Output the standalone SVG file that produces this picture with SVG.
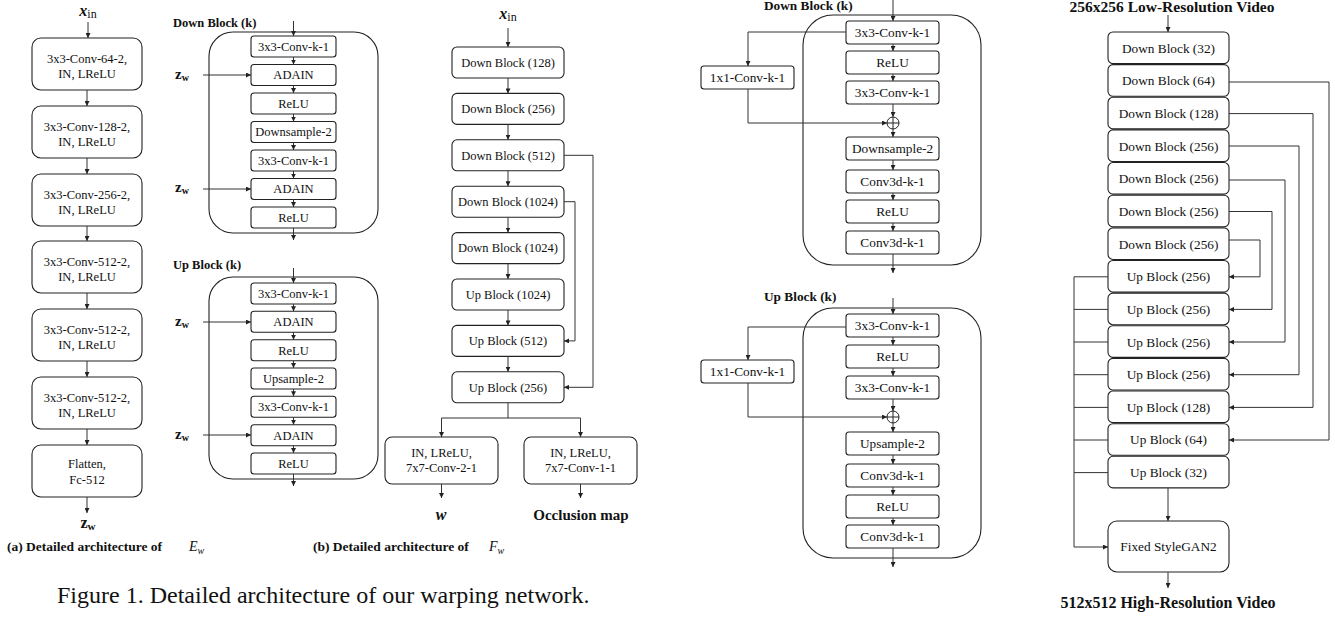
<svg xmlns="http://www.w3.org/2000/svg" width="1335" height="617" viewBox="0 0 1335 617">
<defs>
<marker id="ah" viewBox="0 0 6 6" refX="6" refY="3" markerWidth="5" markerHeight="5" orient="auto" markerUnits="userSpaceOnUse"><path d="M0,0 L6,3 L0,6 z" fill="#222"/></marker>
</defs>
<style>
.bx{fill:#fff;stroke:#222;stroke-width:1.1}
.ob{fill:none;stroke:#222;stroke-width:1.1}
.ln{fill:none;stroke:#333;stroke-width:1}
.ar{fill:none;stroke:#333;stroke-width:1;marker-end:url(#ah)}
.t{font-family:"Liberation Serif","Times New Roman",serif;font-size:12.5px;text-anchor:middle;fill:#111}
.t2{font-family:"Liberation Serif","Times New Roman",serif;font-size:13.3px;text-anchor:middle;fill:#111}
.b{font-family:"Liberation Serif","Times New Roman",serif;font-weight:bold;fill:#111}
.m{font-family:"Liberation Serif","Times New Roman",serif;fill:#111}
</style>
<rect width="1335" height="617" fill="#fff"/>

<!-- ===== Panel (a) E_w ===== -->
<g id="a-xin"><text class="m" x="88" y="16" text-anchor="middle"><tspan font-style="italic" font-weight="bold" font-size="16">x</tspan><tspan font-size="12" dy="2">in</tspan></text></g>
<g id="a-b1"><rect class="bx" x="32" y="38" width="110" height="52" rx="9"/><text class="t" x="87" y="63">3x3-Conv-64-2,</text><text class="t" x="87" y="78">IN, LReLU</text></g>
<g id="a-b2"><rect class="bx" x="32" y="106" width="110" height="52" rx="9"/><text class="t" x="87" y="131">3x3-Conv-128-2,</text><text class="t" x="87" y="146">IN, LReLU</text></g>
<g id="a-b3"><rect class="bx" x="32" y="174" width="110" height="52" rx="9"/><text class="t" x="87" y="199">3x3-Conv-256-2,</text><text class="t" x="87" y="214">IN, LReLU</text></g>
<g id="a-b4"><rect class="bx" x="32" y="241" width="110" height="52" rx="9"/><text class="t" x="87" y="266">3x3-Conv-512-2,</text><text class="t" x="87" y="281">IN, LReLU</text></g>
<g id="a-b5"><rect class="bx" x="32" y="309" width="110" height="52" rx="9"/><text class="t" x="87" y="334">3x3-Conv-512-2,</text><text class="t" x="87" y="349">IN, LReLU</text></g>
<g id="a-b6"><rect class="bx" x="32" y="377" width="110" height="52" rx="9"/><text class="t" x="87" y="402">3x3-Conv-512-2,</text><text class="t" x="87" y="417">IN, LReLU</text></g>
<g id="a-b7"><rect class="bx" x="32" y="445" width="110" height="52" rx="9"/><text class="t" x="87" y="468">Flatten,</text><text class="t" x="87" y="484">Fc-512</text></g>
<g id="a-zw"><text class="b" x="88" y="528" text-anchor="middle"><tspan font-size="16">z</tspan><tspan font-size="11" dy="2">w</tspan></text></g>
<g id="cap-a"><text class="b" x="7" y="551" font-size="13.5">(a) Detailed architecture of</text><text class="m" x="189" y="551" font-size="14" font-style="italic">E<tspan font-size="10" dy="3">w</tspan></text></g>

<!-- ===== Panel (b) blocks ===== -->
<g id="b-down-label"><text class="b" x="173" y="27" font-size="12.5">Down Block (k)</text></g>
<g id="b-down"><rect class="ob" x="209" y="32" width="169" height="201" rx="24"/></g>
<g id="b-d1"><rect class="bx" x="251" y="36" width="85" height="21" rx="3"/><text class="t" x="293.5" y="50.8">3x3-Conv-k-1</text></g>
<g id="b-d2"><rect class="bx" x="251" y="64.5" width="85" height="21" rx="3"/><text class="t" x="293.5" y="79.3">ADAIN</text></g>
<g id="b-d3"><rect class="bx" x="251" y="93" width="85" height="21" rx="3"/><text class="t" x="293.5" y="107.8">ReLU</text></g>
<g id="b-d4"><rect class="bx" x="251" y="121.5" width="85" height="21" rx="3"/><text class="t" x="293.5" y="136.3">Downsample-2</text></g>
<g id="b-d5"><rect class="bx" x="251" y="150" width="85" height="21" rx="3"/><text class="t" x="293.5" y="164.8">3x3-Conv-k-1</text></g>
<g id="b-d6"><rect class="bx" x="251" y="178.5" width="85" height="21" rx="3"/><text class="t" x="293.5" y="193.3">ADAIN</text></g>
<g id="b-d7"><rect class="bx" x="251" y="207" width="85" height="21" rx="3"/><text class="t" x="293.5" y="221.8">ReLU</text></g>
<g id="b-zw1"><text class="b" x="175" y="79"><tspan font-size="15">z</tspan><tspan font-size="10" dy="2">w</tspan></text></g>
<g id="b-zw2"><text class="b" x="175" y="192"><tspan font-size="15">z</tspan><tspan font-size="10" dy="2">w</tspan></text></g>

<g id="b-up-label"><text class="b" x="173" y="269" font-size="12.5">Up Block (k)</text></g>
<g id="b-up"><rect class="ob" x="209" y="277" width="169" height="202" rx="24"/></g>
<g id="b-u1"><rect class="bx" x="251" y="283" width="85" height="21" rx="3"/><text class="t" x="293.5" y="297.8">3x3-Conv-k-1</text></g>
<g id="b-u2"><rect class="bx" x="251" y="311.3" width="85" height="21" rx="3"/><text class="t" x="293.5" y="326.1">ADAIN</text></g>
<g id="b-u3"><rect class="bx" x="251" y="339.7" width="85" height="21" rx="3"/><text class="t" x="293.5" y="354.5">ReLU</text></g>
<g id="b-u4"><rect class="bx" x="251" y="368" width="85" height="21" rx="3"/><text class="t" x="293.5" y="382.8">Upsample-2</text></g>
<g id="b-u5"><rect class="bx" x="251" y="396.3" width="85" height="21" rx="3"/><text class="t" x="293.5" y="411.1">3x3-Conv-k-1</text></g>
<g id="b-u6"><rect class="bx" x="251" y="424.7" width="85" height="21" rx="3"/><text class="t" x="293.5" y="439.5">ADAIN</text></g>
<g id="b-u7"><rect class="bx" x="251" y="453" width="85" height="21" rx="3"/><text class="t" x="293.5" y="467.8">ReLU</text></g>
<g id="b-zw3"><text class="b" x="175" y="326"><tspan font-size="15">z</tspan><tspan font-size="10" dy="2">w</tspan></text></g>
<g id="b-zw4"><text class="b" x="175" y="439"><tspan font-size="15">z</tspan><tspan font-size="10" dy="2">w</tspan></text></g>

<!-- ===== F_w ===== -->
<g id="f-xin"><text class="m" x="508" y="19" text-anchor="middle"><tspan font-style="italic" font-weight="bold" font-size="16">x</tspan><tspan font-size="12" dy="2">in</tspan></text></g>
<g id="f-1"><rect class="bx" x="452" y="47" width="112" height="31" rx="5"/><text class="t" x="508" y="66.8">Down Block (128)</text></g>
<g id="f-2"><rect class="bx" x="452" y="93.4" width="112" height="31" rx="5"/><text class="t" x="508" y="113.2">Down Block (256)</text></g>
<g id="f-3"><rect class="bx" x="452" y="139.8" width="112" height="31" rx="5"/><text class="t" x="508" y="159.6">Down Block (512)</text></g>
<g id="f-4"><rect class="bx" x="452" y="186.2" width="112" height="31" rx="5"/><text class="t" x="508" y="206">Down Block (1024)</text></g>
<g id="f-5"><rect class="bx" x="452" y="232.6" width="112" height="31" rx="5"/><text class="t" x="508" y="252.4">Down Block (1024)</text></g>
<g id="f-6"><rect class="bx" x="452" y="279" width="112" height="31" rx="5"/><text class="t" x="508" y="298.8">Up Block (1024)</text></g>
<g id="f-7"><rect class="bx" x="452" y="325.4" width="112" height="31" rx="5"/><text class="t" x="508" y="345.2">Up Block (512)</text></g>
<g id="f-8"><rect class="bx" x="452" y="371.8" width="112" height="31" rx="5"/><text class="t" x="508" y="391.6">Up Block (256)</text></g>
<g id="f-9"><rect class="bx" x="385" y="437" width="113" height="47" rx="7"/><text class="t" x="441.5" y="457">IN, LReLU,</text><text class="t" x="441.5" y="472">7x7-Conv-2-1</text></g>
<g id="f-10"><rect class="bx" x="524" y="437" width="113" height="47" rx="7"/><text class="t" x="580.5" y="457">IN, LReLU,</text><text class="t" x="580.5" y="472">7x7-Conv-1-1</text></g>
<g id="f-w"><text class="b" x="441" y="520" font-size="16" font-style="italic" text-anchor="middle">w</text></g>
<g id="f-occ"><text class="b" x="581" y="520" font-size="15" text-anchor="middle">Occlusion map</text></g>
<g id="cap-b"><text class="b" x="313" y="551" font-size="13.5">(b) Detailed architecture of</text><text class="m" x="489" y="551" font-size="14" font-style="italic">F<tspan font-size="10" dy="3">w</tspan></text></g>

<g id="fig-cap"><text class="m" x="57" y="603" font-size="24">Figure 1. Detailed architecture of our warping network.</text></g>

<!-- ===== Right blocks ===== -->
<g id="r-down-label"><text class="b" x="764" y="10" font-size="13.3">Down Block (k)</text></g>
<g id="r-down"><rect class="ob" x="803" y="15" width="178" height="250" rx="30"/></g>
<g id="r-d1"><rect class="bx" x="846" y="21" width="93" height="23" rx="3"/><text class="t2" x="892.5" y="37">3x3-Conv-k-1</text></g>
<g id="r-d2"><rect class="bx" x="846" y="51" width="93" height="23" rx="3"/><text class="t2" x="892.5" y="67">ReLU</text></g>
<g id="r-d3"><rect class="bx" x="846" y="81" width="93" height="23" rx="3"/><text class="t2" x="892.5" y="97">3x3-Conv-k-1</text></g>
<g id="r-d4"><rect class="bx" x="846" y="137" width="93" height="23" rx="3"/><text class="t2" x="892.5" y="153">Downsample-2</text></g>
<g id="r-d5"><rect class="bx" x="846" y="170" width="93" height="23" rx="3"/><text class="t2" x="892.5" y="186">Conv3d-k-1</text></g>
<g id="r-d6"><rect class="bx" x="846" y="200" width="93" height="23" rx="3"/><text class="t2" x="892.5" y="216">ReLU</text></g>
<g id="r-d7"><rect class="bx" x="846" y="231" width="93" height="23" rx="3"/><text class="t2" x="892.5" y="247">Conv3d-k-1</text></g>
<g id="r-d1x1"><rect class="bx" x="701" y="66" width="93" height="23" rx="3"/><text class="t2" x="747.5" y="82">1x1-Conv-k-1</text></g>
<g id="r-dsum"><circle cx="893" cy="123" r="6" fill="#fff" stroke="#222" stroke-width="1"/><path d="M887,123 H899 M893,117 V129" stroke="#222" stroke-width="1"/></g>

<g id="r-up-label"><text class="b" x="764" y="301" font-size="13.3">Up Block (k)</text></g>
<g id="r-up"><rect class="ob" x="803" y="308" width="178" height="250" rx="30"/></g>
<g id="r-u1"><rect class="bx" x="846" y="314" width="93" height="23" rx="3"/><text class="t2" x="892.5" y="330">3x3-Conv-k-1</text></g>
<g id="r-u2"><rect class="bx" x="846" y="345" width="93" height="23" rx="3"/><text class="t2" x="892.5" y="361">ReLU</text></g>
<g id="r-u3"><rect class="bx" x="846" y="376" width="93" height="23" rx="3"/><text class="t2" x="892.5" y="392">3x3-Conv-k-1</text></g>
<g id="r-u4"><rect class="bx" x="846" y="432" width="93" height="23" rx="3"/><text class="t2" x="892.5" y="448">Upsample-2</text></g>
<g id="r-u5"><rect class="bx" x="846" y="464" width="93" height="23" rx="3"/><text class="t2" x="892.5" y="480">Conv3d-k-1</text></g>
<g id="r-u6"><rect class="bx" x="846" y="495" width="93" height="23" rx="3"/><text class="t2" x="892.5" y="511">ReLU</text></g>
<g id="r-u7"><rect class="bx" x="846" y="525" width="93" height="23" rx="3"/><text class="t2" x="892.5" y="541">Conv3d-k-1</text></g>
<g id="r-u1x1"><rect class="bx" x="701" y="360" width="93" height="23" rx="3"/><text class="t2" x="747.5" y="376">1x1-Conv-k-1</text></g>
<g id="r-usum"><circle cx="893" cy="417" r="6" fill="#fff" stroke="#222" stroke-width="1"/><path d="M887,417 H899 M893,411 V423" stroke="#222" stroke-width="1"/></g>

<!-- ===== Far-right column ===== -->
<g id="c-top"><text class="b" x="1172" y="12" font-size="15.5" text-anchor="middle">256x256  Low-Resolution Video</text></g>
<g id="c-0"><rect class="bx" x="1108" y="32" width="121" height="31.6" rx="5"/><text class="t2" x="1168.5" y="52.7">Down Block (32)</text></g>
<g id="c-1"><rect class="bx" x="1108" y="64.64" width="121" height="31.6" rx="5"/><text class="t2" x="1168.5" y="85.4">Down Block (64)</text></g>
<g id="c-2"><rect class="bx" x="1108" y="97.28" width="121" height="31.6" rx="5"/><text class="t2" x="1168.5" y="118">Down Block (128)</text></g>
<g id="c-3"><rect class="bx" x="1108" y="129.92" width="121" height="31.6" rx="5"/><text class="t2" x="1168.5" y="150.6">Down Block (256)</text></g>
<g id="c-4"><rect class="bx" x="1108" y="162.56" width="121" height="31.6" rx="5"/><text class="t2" x="1168.5" y="183.3">Down Block (256)</text></g>
<g id="c-5"><rect class="bx" x="1108" y="195.2" width="121" height="31.6" rx="5"/><text class="t2" x="1168.5" y="215.9">Down Block (256)</text></g>
<g id="c-6"><rect class="bx" x="1108" y="227.84" width="121" height="31.6" rx="5"/><text class="t2" x="1168.5" y="248.6">Down Block (256)</text></g>
<g id="c-7"><rect class="bx" x="1108" y="260.48" width="121" height="31.6" rx="5"/><text class="t2" x="1168.5" y="281.2">Up Block (256)</text></g>
<g id="c-8"><rect class="bx" x="1108" y="293.12" width="121" height="31.6" rx="5"/><text class="t2" x="1168.5" y="313.8">Up Block (256)</text></g>
<g id="c-9"><rect class="bx" x="1108" y="325.76" width="121" height="31.6" rx="5"/><text class="t2" x="1168.5" y="346.5">Up Block (256)</text></g>
<g id="c-10"><rect class="bx" x="1108" y="358.4" width="121" height="31.6" rx="5"/><text class="t2" x="1168.5" y="379.1">Up Block (256)</text></g>
<g id="c-11"><rect class="bx" x="1108" y="391.04" width="121" height="31.6" rx="5"/><text class="t2" x="1168.5" y="411.8">Up Block (128)</text></g>
<g id="c-12"><rect class="bx" x="1108" y="423.68" width="121" height="31.6" rx="5"/><text class="t2" x="1168.5" y="444.4">Up Block (64)</text></g>
<g id="c-13"><rect class="bx" x="1108" y="456.32" width="121" height="31.6" rx="5"/><text class="t2" x="1168.5" y="477">Up Block (32)</text></g>
<g id="c-gan"><rect class="bx" x="1108" y="521" width="121" height="51" rx="9"/><text class="t2" x="1168.5" y="551">Fixed StyleGAN2</text></g>
<g id="c-bot"><text class="b" x="1168" y="608" font-size="16" text-anchor="middle">512x512 High-Resolution Video</text></g>

<!-- ===== Connectors ===== -->
<g id="connectors">
<!-- panel a -->
<path class="ar" d="M88,22 V38"/>
<path class="ar" d="M87,90 V106"/>
<path class="ar" d="M87,158 V174"/>
<path class="ar" d="M87,226 V241"/>
<path class="ar" d="M87,293 V309"/>
<path class="ar" d="M87,361 V377"/>
<path class="ar" d="M87,429 V445"/>
<path class="ar" d="M87,497 V513"/>
<!-- panel b down -->
<path class="ar" d="M293.5,21 V36"/>
<path class="ar" d="M293.5,57 V64.5"/>
<path class="ar" d="M293.5,85.5 V93"/>
<path class="ar" d="M293.5,114 V121.5"/>
<path class="ar" d="M293.5,142.5 V150"/>
<path class="ar" d="M293.5,171 V178.5"/>
<path class="ar" d="M293.5,199.5 V207"/>
<path class="ar" d="M293.5,228 V240"/>
<path class="ar" d="M203,75 H251"/>
<path class="ar" d="M203,189 H251"/>
<!-- panel b up -->
<path class="ar" d="M293.5,268 V283"/>
<path class="ar" d="M293.5,304 V311.3"/>
<path class="ar" d="M293.5,332.3 V339.7"/>
<path class="ar" d="M293.5,360.7 V368"/>
<path class="ar" d="M293.5,389 V396.3"/>
<path class="ar" d="M293.5,417.3 V424.7"/>
<path class="ar" d="M293.5,445.7 V453"/>
<path class="ar" d="M293.5,474 V486"/>
<path class="ar" d="M203,322 H251"/>
<path class="ar" d="M203,435 H251"/>
<!-- F_w -->
<path class="ar" d="M508,28 V47"/>
<path class="ar" d="M508,78 V93.4"/>
<path class="ar" d="M508,124.4 V139.8"/>
<path class="ar" d="M508,170.8 V186.2"/>
<path class="ar" d="M508,217.2 V232.6"/>
<path class="ar" d="M508,263.6 V279"/>
<path class="ar" d="M508,310 V325.4"/>
<path class="ar" d="M508,356.4 V371.8"/>
<path class="ar" d="M564,155.3 H593 V387.3 H564"/>
<path class="ar" d="M564,201.7 H575 V340.9 H564"/>
<path class="ln" d="M508,402.8 V418 M441.5,418 H580.5"/>
<path class="ar" d="M441.5,418 V437"/>
<path class="ar" d="M580.5,418 V437"/>
<path class="ar" d="M441.5,484 V498"/>
<path class="ar" d="M580.5,484 V498"/>
<!-- right down block -->
<path class="ar" d="M893,0 V21"/>
<path class="ar" d="M893,44 V51"/>
<path class="ar" d="M893,74 V81"/>
<path class="ar" d="M893,104 V117"/>
<path class="ar" d="M893,129 V137"/>
<path class="ar" d="M893,160 V170"/>
<path class="ar" d="M893,193 V200"/>
<path class="ar" d="M893,223 V231"/>
<path class="ar" d="M893,254 V273"/>
<path class="ar" d="M846,32 H748 V66"/>
<path class="ar" d="M748,89 V123 H887"/>
<!-- right up block -->
<path class="ar" d="M893,298 V314"/>
<path class="ar" d="M893,337 V345"/>
<path class="ar" d="M893,368 V376"/>
<path class="ar" d="M893,399 V411"/>
<path class="ar" d="M893,423 V432"/>
<path class="ar" d="M893,455 V464"/>
<path class="ar" d="M893,487 V495"/>
<path class="ar" d="M893,518 V525"/>
<path class="ar" d="M893,548 V567"/>
<path class="ar" d="M846,327 H748 V360"/>
<path class="ar" d="M748,383 V417 H887"/>
<!-- far right column -->
<path class="ar" d="M1168,15 V32"/>
<path class="ar" d="M1168,488 V521"/>
<path class="ar" d="M1168,572 V588"/>
<path class="ar" d="M1229,82 H1329 V440 H1229"/>
<path class="ar" d="M1229,113.6 H1313 V407.4 H1229"/>
<path class="ar" d="M1229,146 H1299 V374.7 H1229"/>
<path class="ar" d="M1229,180 H1285 V342 H1229"/>
<path class="ar" d="M1229,211.5 H1272 V309.4 H1229"/>
<path class="ar" d="M1229,240 H1260 V276.8 H1229"/>
<path class="ln" d="M1108,276.8 H1074 V547 M1108,309.4 H1074 M1108,342 H1074 M1108,374.7 H1074 M1108,407.4 H1074 M1108,440 H1074 M1108,472.6 H1074"/>
<path class="ar" d="M1074,547 H1108"/>
</g>
</svg>
